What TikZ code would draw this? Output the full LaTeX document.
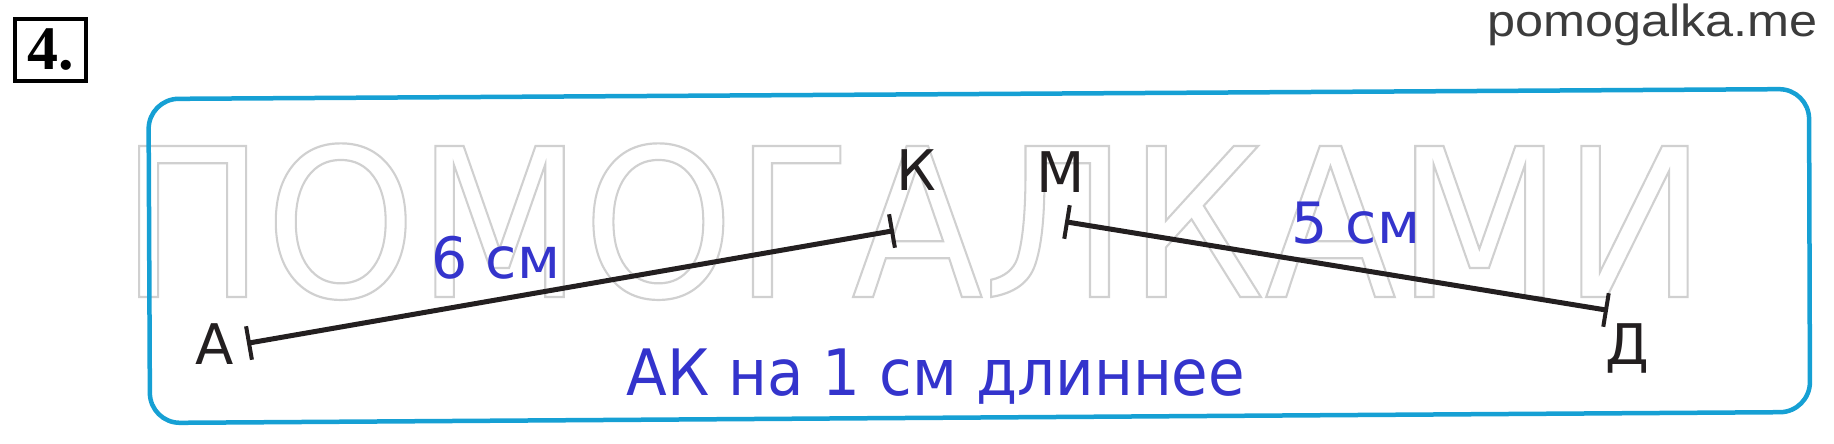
\documentclass[tikz,border=0pt]{standalone}
\usepackage{fontspec}
\usepackage{graphicx}
\setmainfont{DejaVu Sans}
\newfontfamily\siteFont{Liberation Sans}
\newfontfamily\numFont{Liberation Serif}
\usetikzlibrary{calc}
\definecolor{frameblue}{RGB}{22,160,212}
\definecolor{labelblue}{RGB}{52,52,204}
\definecolor{segcol}{RGB}{35,31,32}
\definecolor{wmgray}{RGB}{208,208,208}
\definecolor{sitegray}{RGB}{60,60,60}
\newcommand\outlinedtext[1]{\special{pdf:code 1 Tr 2.2 w}#1\special{pdf:code 0 Tr}}
\begin{document}
\begin{tikzpicture}[x=1pt,y=-1pt,
  seg/.style={line width=5pt, draw=segcol},
  tickmark/.style={line width=4pt, draw=segcol},
  ptlabel/.style={font=\fontsize{56}{56}\selectfont, text=segcol, inner sep=0pt, anchor=base},
  lenlabel/.style={font=\fontsize{57}{57}\selectfont, text=labelblue, inner sep=0pt, anchor=base},
]
\useasboundingbox[fill=white] (0,0) rectangle (1834,444);

% watermark
\node[anchor=base west, inner sep=0pt, text=wmgray, font=\fontsize{207}{207}\selectfont] (wm) at (120,297)
  {\scalebox{0.93}[1]{\outlinedtext{ПОМОГАЛКАМИ}}};

% frame
\draw[frameblue, line width=4.5pt, rounded corners=30pt]
  (979,94) -- (1809,89) -- (1810,412) -- (150,423) -- (148.5,99) -- cycle;

% task number
\node[draw=black, line width=3.5pt, minimum width=71pt, minimum height=62pt, inner sep=0pt,
  font=\numFont\bfseries\fontsize{62}{62}\selectfont] (num) at (50.5,50) {4.};

% site name
\node[anchor=base east, inner sep=0pt, text=sitegray, font=\siteFont\fontsize{45}{45}\selectfont] (site) at (1818,37)
  {\scalebox{1.12}[1]{pomogalka.me}};

% points
\coordinate (A) at (249,343);
\coordinate (K) at (892,231);
\coordinate (M) at (1067,222);
\coordinate (D) at (1606,310);

\draw[seg] (A) -- (K);
\draw[seg] (M) -- (D);
\draw[tickmark] ($(A)!17pt!90:(K)$) -- ($(A)!17pt!-90:(K)$);
\draw[tickmark] ($(K)!17pt!90:(A)$) -- ($(K)!17pt!-90:(A)$);
\draw[tickmark] ($(M)!17pt!90:(D)$) -- ($(M)!17pt!-90:(D)$);
\draw[tickmark] ($(D)!17pt!90:(M)$) -- ($(D)!17pt!-90:(M)$);

\node[ptlabel] (lA) at (215,364) {А};
\node[ptlabel] (lK) at (916,190) {К};
\node[ptlabel] (lM) at (1061,192) {М};
\node[ptlabel] (lD) at (1627,364) {Д};

\node[lenlabel] (len6) at (496,278) {6 см};
\node[lenlabel] (len5) at (1356,243) {5 см};

\node[anchor=base, inner sep=0pt, text=labelblue, font=\fontsize{64}{64}\selectfont] (answer) at (936,395)
  {\scalebox{0.93}[1]{АК на 1 см длиннее}};
\end{tikzpicture}
\end{document}
